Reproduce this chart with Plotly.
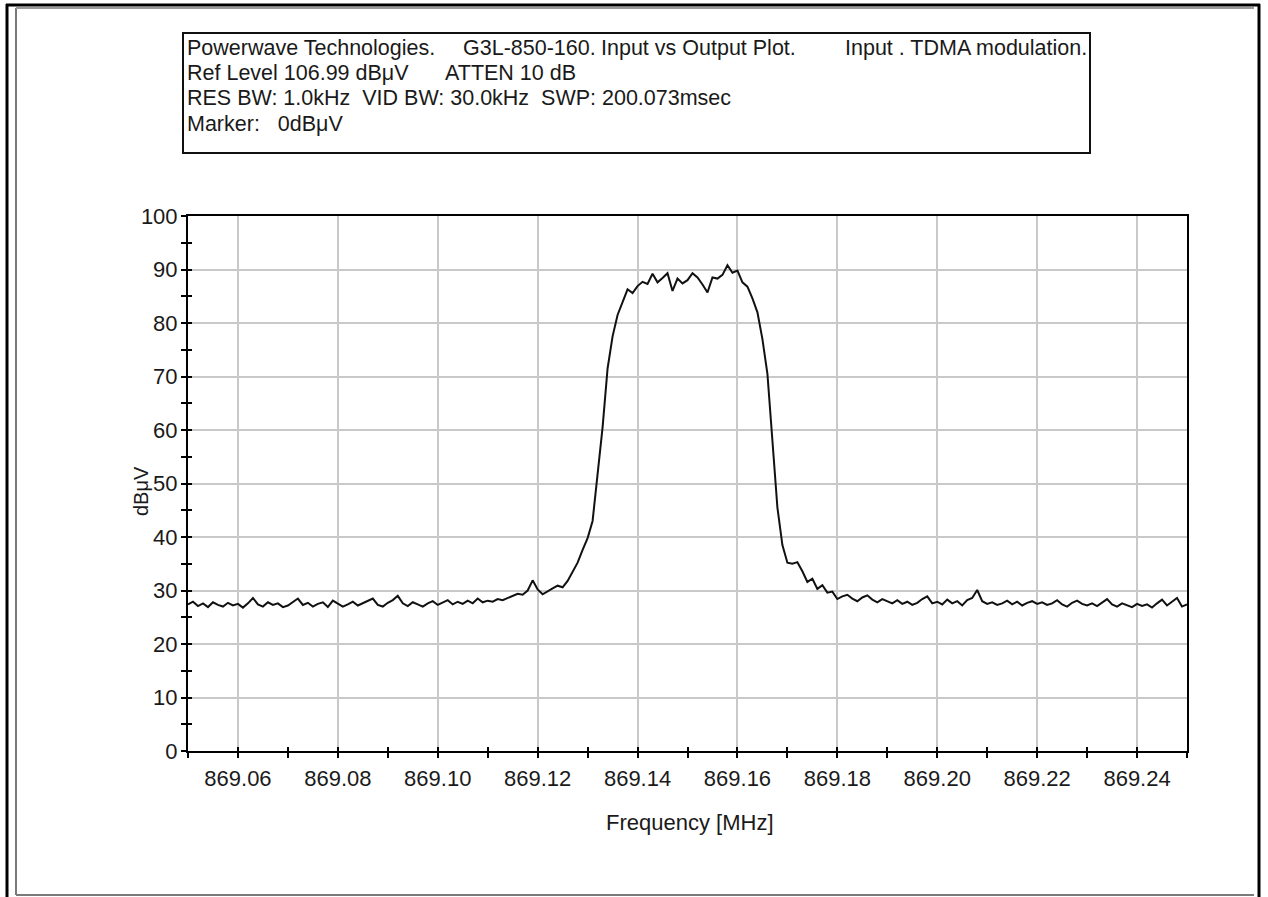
import numpy as np
import plotly.graph_objects as go

# Sweep settings of the analyzer trace
F_START = 869.05
F_STOP = 869.25
N_POINTS = 201
freq_mhz = np.linspace(F_START, F_STOP, N_POINTS)

# Measured level per sweep point (dBuV)
level_dbuv = [
    27.4, 27.9, 27.1, 27.6, 26.9, 27.8, 27.3, 27.0, 27.7, 27.2,
    27.5, 26.8, 27.6, 28.6, 27.4, 27.0, 27.8, 27.3, 27.6, 26.9,
    27.2, 27.9, 28.5, 27.3, 27.7, 27.0, 27.5, 27.8, 26.9, 28.1,
    27.6, 27.0, 27.4, 27.9, 27.2, 27.6, 28.0, 28.5, 27.3, 27.0,
    27.7, 28.2, 29.0, 27.6, 27.1, 27.8, 27.4, 27.0, 27.6, 28.0,
    27.3, 27.7, 28.2, 27.4, 27.9, 27.5, 28.1, 27.6, 28.5, 27.8,
    28.1, 27.9, 28.4, 28.2, 28.6, 28.9, 29.4, 29.2, 30.0, 31.9,
    30.2, 29.3, 29.9, 30.4, 30.9, 30.6, 31.8, 33.4, 35.2, 37.6,
    39.8, 43.0, 52.0, 60.5, 71.5, 77.5, 81.5, 84.0, 86.3, 85.6,
    86.9, 87.7, 87.3, 89.2, 87.6, 88.4, 89.3, 86.0, 88.3, 87.4,
    88.0, 89.3, 88.5, 87.2, 85.7, 88.5, 88.3, 89.0, 90.8, 89.4,
    89.8, 87.6, 86.8, 84.6, 82.0, 77.0, 70.5, 58.0, 45.5, 38.5,
    35.2, 35.0, 35.3, 33.6, 31.6, 32.2, 30.3, 31.0, 29.6, 29.8,
    28.4, 28.9, 29.2, 28.5, 28.0, 28.7, 29.1, 28.3, 27.8, 28.4,
    28.0, 27.6, 28.2, 27.5, 27.9, 27.3, 27.7, 28.4, 28.9, 27.6,
    27.9, 27.4, 28.3, 27.6, 28.0, 27.2, 28.2, 28.6, 30.1, 28.0,
    27.5, 27.8, 27.3, 27.6, 28.1, 27.4, 27.9, 27.2, 27.7, 28.0,
    27.5, 27.8, 27.3, 27.6, 28.2, 27.4, 27.0, 27.7, 28.1, 27.5,
    27.2, 27.6, 27.1, 27.8, 28.4, 27.4, 27.0, 27.6, 27.3, 26.9,
    27.5, 27.1, 27.4, 26.8, 27.6, 28.3, 27.2, 27.9, 28.6, 27.0,
    27.4,
]

# Axis ticks
x_tick_vals = [869.06, 869.08, 869.10, 869.12, 869.14, 869.16, 869.18, 869.20, 869.22, 869.24]
x_tick_text = ["869.06", "869.08", "869.10", "869.12", "869.14", "869.16", "869.18", "869.20", "869.22", "869.24"]
x_minor_vals = [869.05, 869.07, 869.09, 869.11, 869.13, 869.15, 869.17, 869.19, 869.21, 869.23, 869.25]
y_tick_vals = [0, 10, 20, 30, 40, 50, 60, 70, 80, 90, 100]
y_tick_text = ["0", "10", "20", "30", "40", "50", "60", "70", "80", "90", "100"]
y_minor_vals = [5, 15, 25, 35, 45, 55, 65, 75, 85, 95]

x_title = "Frequency [MHz]"
y_title = "dBμV"

# Header text pieces: (text, line number)
header_pieces = [
    ("Powerwave Technologies.", 0),
    ("G3L-850-160.", 0),
    ("Input vs Output Plot.", 0),
    ("Input . TDMA modulation.", 0),
    ("Ref Level 106.99 dBμV", 1),
    ("ATTEN 10 dB", 1),
    ("RES BW: 1.0kHz  VID BW: 30.0kHz  SWP: 200.073msec", 2),
    ("Marker:   0dBμV", 3),
]
header_x_px = [185, 461, 599, 843, 185, 443, 185, 185]
header_line_y_px = [48, 73, 98, 124]

# Page geometry (pixels)
W, H = 1268, 897
PL, PR, PT, PB = 188, 1187, 216, 751


def px(x):
    return (x - PL) / (PR - PL)


def py(y):
    return (PB - y) / (PB - PT)


FONT = "Liberation Sans, Arial, sans-serif"
INK = "#1a1a1a"
GRID = "#c9c9c9"

fig = go.Figure()
fig.add_trace(go.Scatter(
    x=freq_mhz, y=level_dbuv, mode="lines",
    line=dict(color="#111111", width=2),
    showlegend=False, hoverinfo="skip",
))
# empty trace that carries the inner-tick overlay axes
fig.add_trace(go.Scatter(x=[], y=[], xaxis="x2", yaxis="y2", showlegend=False))

axis_common = dict(
    showline=True, linecolor="black", linewidth=2,
    ticks="outside", ticklen=5, tickwidth=2, tickcolor="black",
    zeroline=False,
    tickfont=dict(family=FONT, size=22, color=INK),
)

fig.update_layout(
    width=W, height=H,
    margin=dict(l=PL, r=W - PR, t=PT, b=H - PB),
    paper_bgcolor="white", plot_bgcolor="white",
    xaxis=dict(
        range=[F_START, F_STOP], tickmode="array",
        tickvals=x_tick_vals, ticktext=x_tick_text,
        showgrid=True, gridcolor=GRID, gridwidth=2,
        mirror=True, ticklabelstandoff=2,
        minor=dict(tickmode="array", tickvals=x_minor_vals, ticks="outside",
                   ticklen=5, tickwidth=2, tickcolor="black", showgrid=False),
        **axis_common,
    ),
    yaxis=dict(
        range=[0, 100], tickmode="array",
        tickvals=y_tick_vals, ticktext=y_tick_text,
        showgrid=True, gridcolor=GRID, gridwidth=2,
        mirror=True, ticklabelstandoff=-1,
        minor=dict(tickmode="array", tickvals=y_minor_vals, ticks="outside",
                   ticklen=5, tickwidth=2, tickcolor="black", showgrid=False),
        **axis_common,
    ),
    xaxis2=dict(
        overlaying="x", anchor="y2", range=[F_START, F_STOP],
        tickmode="array", tickvals=x_tick_vals, showticklabels=False,
        ticks="inside", ticklen=4, tickwidth=2, tickcolor="black",
        showgrid=False, showline=False, zeroline=False,
        minor=dict(tickmode="array", tickvals=x_minor_vals, ticks="inside",
                   ticklen=4, tickwidth=2, tickcolor="black", showgrid=False),
    ),
    yaxis2=dict(
        overlaying="y", anchor="x2", range=[0, 100],
        tickmode="array", tickvals=y_tick_vals, showticklabels=False,
        ticks="inside", ticklen=4, tickwidth=2, tickcolor="black",
        showgrid=False, showline=False, zeroline=False,
        minor=dict(tickmode="array", tickvals=y_minor_vals, ticks="inside",
                   ticklen=4, tickwidth=2, tickcolor="black", showgrid=False),
    ),
)

annotations = []
for (text, line), xp in zip(header_pieces, header_x_px):
    annotations.append(dict(
        text=text, x=px(xp), y=py(header_line_y_px[line]),
        xref="paper", yref="paper", xanchor="left", yanchor="middle",
        showarrow=False, font=dict(family=FONT, size=21.5, color=INK),
    ))
annotations.append(dict(
    text=x_title, x=px(690), y=py(822), xref="paper", yref="paper",
    xanchor="center", yanchor="middle", showarrow=False,
    font=dict(family=FONT, size=22, color=INK),
))
annotations.append(dict(
    text=y_title, x=px(141), y=py(491), xref="paper", yref="paper",
    xanchor="center", yanchor="middle", textangle=-90, showarrow=False,
    font=dict(family=FONT, size=20, color=INK),
))
fig.update_layout(annotations=annotations)

shapes = [
    # header box
    dict(type="rect", xref="paper", yref="paper",
         x0=px(183), x1=px(1090), y0=py(153), y1=py(33),
         line=dict(color="#111111", width=2), fillcolor="rgba(0,0,0,0)", layer="above"),
    # outer window frame
    dict(type="line", xref="paper", yref="paper", x0=px(7), x1=px(7), y0=py(4), y1=py(900),
         line=dict(color="black", width=3)),
    dict(type="line", xref="paper", yref="paper", x0=px(6), x1=px(1260), y0=py(5), y1=py(5),
         line=dict(color="black", width=3)),
    dict(type="line", xref="paper", yref="paper", x0=px(1259), x1=px(1259), y0=py(4), y1=py(900),
         line=dict(color="black", width=3)),
    # inner panel edge
    dict(type="line", xref="paper", yref="paper", x0=px(16), x1=px(16), y0=py(8), y1=py(895),
         line=dict(color="#7a7a7a", width=2)),
    dict(type="line", xref="paper", yref="paper", x0=px(16), x1=px(1254), y0=py(8), y1=py(8),
         line=dict(color="#9a9a9a", width=2)),
    dict(type="line", xref="paper", yref="paper", x0=px(16), x1=px(1254), y0=py(895), y1=py(895),
         line=dict(color="#7a7a7a", width=2)),
]
fig.update_layout(shapes=shapes)

fig.write_html("out.html")
